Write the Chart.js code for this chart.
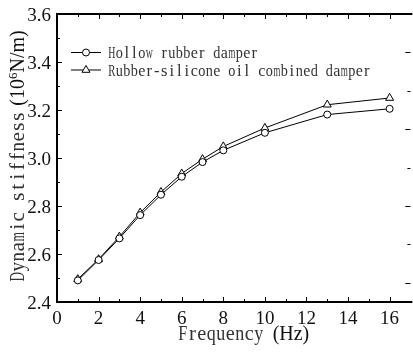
<!DOCTYPE html>
<html>
<head>
<meta charset="utf-8">
<script src="https://cdn.jsdelivr.net/npm/chart.js@4.4.1/dist/chart.umd.min.js"></script>
<style>
  html, body { margin: 0; padding: 0; background: #fff; overflow: hidden; }
  #wrap { width: 416px; height: 355px; }
</style>
</head>
<body>
<div id="wrap"><canvas id="chart"></canvas></div>
<script>
const freq = [1, 2, 3, 4, 5, 6, 7, 8, 10, 13, 16];
const hollow = [2.49, 2.575, 2.665, 2.762, 2.847, 2.922, 2.983, 3.032, 3.105, 3.181, 3.205];
const combined = [2.495, 2.578, 2.672, 2.772, 2.858, 2.935, 2.995, 3.048, 3.125, 3.222, 3.25];
const seriesNames = ['Hollow rubber damper', 'Rubber-silicone oil combined damper'];
const xTicks = [0, 2, 4, 6, 8, 10, 12, 14, 16];
const yTicks = ['2.4', '2.6', '2.8', '3.0', '3.2', '3.4', '3.6'];
const rightTicks = [0, 1, 2, 3];

const SERIF = '"Liberation Serif", "DejaVu Serif", serif';
const GLYPH = 1.1; // glyphes un peu plus grands que la cellule nominale

// texte à chasse fixe : chaque caractère centré dans une cellule de 0.5em,
// les glyphes trop larges (m, w...) sont comprimés pour tenir dans la cellule
function monoWidth(text, size) {
  return text.length * size * 0.5;
}
function drawMono(ctx, text, x, y, size) {
  ctx.save();
  ctx.font = (size * GLYPH).toFixed(1) + 'px ' + SERIF;
  ctx.textAlign = 'center';
  const cell = size * 0.5;
  const room = cell * 0.95;
  for (let i = 0; i < text.length; i++) {
    const cx = x + cell * i + cell / 2;
    const w = ctx.measureText(text[i]).width;
    if (w > room) {
      ctx.save();
      ctx.translate(cx, y);
      ctx.scale(room / w, 1);
      ctx.fillText(text[i], 0, 0);
      ctx.restore();
    } else {
      ctx.fillText(text[i], cx, y);
    }
  }
  ctx.restore();
}

function marker(ctx, style, r, x, y) {
  ctx.beginPath();
  if (style === 'circle') {
    ctx.arc(x, y, r, 0, Math.PI * 2);
  } else {
    ctx.moveTo(x, y - r);
    ctx.lineTo(x + Math.sin(2 * Math.PI / 3) * r, y - Math.cos(2 * Math.PI / 3) * r);
    ctx.lineTo(x + Math.sin(4 * Math.PI / 3) * r, y - Math.cos(4 * Math.PI / 3) * r);
    ctx.closePath();
  }
  ctx.fillStyle = '#fff';
  ctx.fill();
  ctx.stroke();
}

const framePlugin = {
  id: 'frame',
  afterDraw(chart) {
    const { ctx, chartArea: a, scales } = chart;
    const xs = scales.x, ys = scales.y, y2 = scales.y2;
    ctx.save();
    ctx.strokeStyle = '#000';

    // cadre (gauche, bas, haut)
    ctx.lineWidth = 2;
    ctx.beginPath();
    ctx.moveTo(a.left, a.top); ctx.lineTo(a.right + 2, a.top);
    ctx.moveTo(a.left, a.top - 1); ctx.lineTo(a.left, a.bottom + 1);
    ctx.moveTo(a.left - 1, a.bottom); ctx.lineTo(a.right + 2, a.bottom);
    ctx.stroke();

    // graduations vers l'intérieur
    ctx.lineWidth = 1;
    ctx.beginPath();
    xTicks.forEach((v, i) => {
      const px = Math.round(xs.getPixelForValue(v)) + 0.5;
      ctx.moveTo(px, a.bottom); ctx.lineTo(px, a.bottom - 5);
      ctx.moveTo(px, a.top); ctx.lineTo(px, a.top + 5);
      if (i < xTicks.length - 1) {
        const m = Math.round(xs.getPixelForValue((v + xTicks[i + 1]) / 2)) + 0.5;
        ctx.moveTo(m, a.bottom); ctx.lineTo(m, a.bottom - 3);
        ctx.moveTo(m, a.top); ctx.lineTo(m, a.top + 3);
      }
    });
    yTicks.forEach((t, i) => {
      const py = Math.round(ys.getPixelForValue(+t)) + 0.5;
      ctx.moveTo(a.left, py); ctx.lineTo(a.left + 5, py);
      if (i < yTicks.length - 1) {
        const m = Math.round(ys.getPixelForValue((+t + +yTicks[i + 1]) / 2)) + 0.5;
        ctx.moveTo(a.left, m); ctx.lineTo(a.left + 3, m);
      }
    });
    rightTicks.forEach(v => {
      const py = Math.round(y2.getPixelForValue(v)) + 0.5;
      ctx.moveTo(a.right, py); ctx.lineTo(a.right - 5, py);
      const m = Math.round(y2.getPixelForValue(v + 0.5)) + 0.5;
      ctx.moveTo(a.right, m); ctx.lineTo(a.right - 3, m);
    });
    ctx.stroke();

    // étiquettes des axes
    ctx.fillStyle = '#111';
    ctx.font = '19px ' + SERIF;
    ctx.textAlign = 'center';
    ctx.textBaseline = 'alphabetic';
    xTicks.forEach(v => ctx.fillText(String(v), xs.getPixelForValue(v), a.bottom + 22));
    ctx.textAlign = 'right';
    yTicks.forEach(t => ctx.fillText(t, a.left - 6, ys.getPixelForValue(+t) + 6.5));

    // titre de l'axe x
    ctx.fillStyle = '#333';
    ctx.textAlign = 'left';
    const xt1 = 'Frequency', xt2 = '(Hz)';
    const w1 = monoWidth(xt1, 19);
    ctx.font = '20px ' + SERIF;
    const w2 = ctx.measureText(xt2).width;
    const gap = 9;
    let sx = (a.left + a.right) / 2 + 10 - (w1 + gap + w2) / 2;
    drawMono(ctx, xt1, sx, 340, 19);
    ctx.fillStyle = '#111';
    ctx.font = '20px ' + SERIF;
    ctx.fillText(xt2, sx + w1 + gap, 340);

    // titre de l'axe y (vertical)
    ctx.save();
    ctx.translate(24, (a.top + a.bottom) / 2 - 2);
    ctx.rotate(-Math.PI / 2);
    const yt1 = 'Dynamic stiffness';
    const v1 = monoWidth(yt1, 20);
    ctx.font = '20px ' + SERIF;
    const p1 = '(10', p2 = '6', p3 = 'N/m)';
    const q1 = ctx.measureText(p1).width, q3 = ctx.measureText(p3).width;
    ctx.font = '13px ' + SERIF;
    const q2 = ctx.measureText(p2).width;
    const total = v1 + 6 + q1 + q2 + q3;
    let cx = -total / 2;
    ctx.fillStyle = '#333';
    drawMono(ctx, yt1, cx, 0, 20);
    cx += v1 + 6;
    ctx.fillStyle = '#111';
    ctx.textAlign = 'left';
    ctx.font = '20px ' + SERIF;
    ctx.fillText(p1, cx, 0); cx += q1;
    ctx.font = '13px ' + SERIF;
    ctx.fillText(p2, cx, -7); cx += q2;
    ctx.font = '20px ' + SERIF;
    ctx.fillText(p3, cx, 0);
    ctx.restore();

    // légende
    chart.data.datasets.forEach((ds, i) => {
      const ly = 52.5 + i * 17.5;
      ctx.strokeStyle = '#000';
      ctx.lineWidth = 1;
      ctx.beginPath();
      ctx.moveTo(71, ly); ctx.lineTo(101, ly);
      ctx.stroke();
      marker(ctx, ds.pointStyle, ds.pointRadius, 86, ly);
      ctx.fillStyle = '#333';
      ctx.textBaseline = 'alphabetic';
      drawMono(ctx, ds.label, 108, ly + 5.5, 15);
    });
    ctx.restore();
  }
};

const toPoints = vals => freq.map((f, i) => ({ x: f, y: vals[i] }));

new Chart(document.getElementById('chart'), {
  type: 'line',
  data: {
    datasets: [
      {
        label: seriesNames[0],
        data: toPoints(hollow),
        borderColor: '#000', borderWidth: 1,
        pointStyle: 'circle', pointRadius: 3.5,
        pointBackgroundColor: '#fff', pointBorderColor: '#000', pointBorderWidth: 1
      },
      {
        label: seriesNames[1],
        data: toPoints(combined),
        borderColor: '#000', borderWidth: 1,
        pointStyle: 'triangle', pointRadius: 4.6,
        pointBackgroundColor: '#fff', pointBorderColor: '#000', pointBorderWidth: 1
      }
    ]
  },
  options: {
    responsive: true,
    maintainAspectRatio: false,
    animation: false,
    layout: { padding: { left: 57, right: 2, top: 14, bottom: 53 } },
    scales: {
      x: { type: 'linear', min: 0, max: 17, display: false },
      y: { min: 2.4, max: 3.6, display: false },
      y2: { min: -0.25, max: 3.5, display: false }
    },
    plugins: { legend: { display: false }, tooltip: { enabled: false } }
  },
  plugins: [framePlugin]
});
</script>
</body>
</html>
